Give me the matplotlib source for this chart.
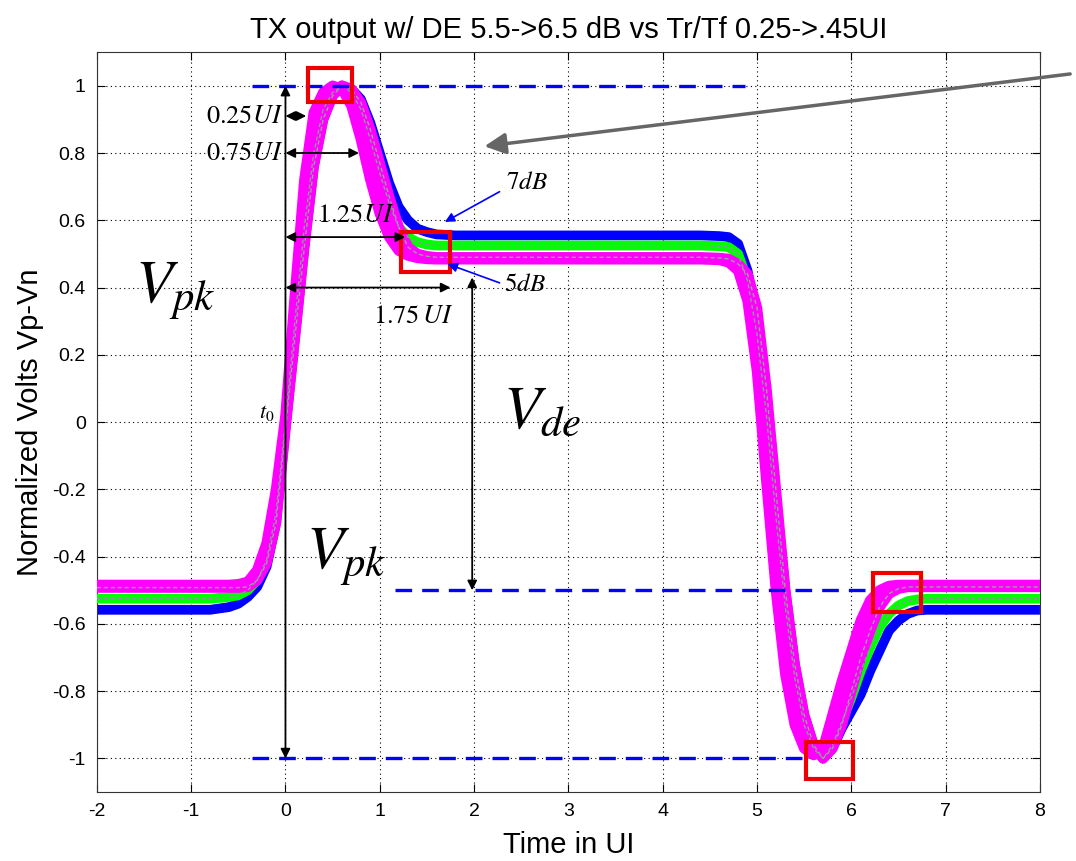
import matplotlib
matplotlib.use("Agg")
import matplotlib.pyplot as plt
from matplotlib.patches import Rectangle

plt.rcParams['font.family'] = ['Liberation Sans', 'DejaVu Sans']
plt.rcParams['mathtext.fontset'] = 'stix'
plt.rcParams['axes.unicode_minus'] = False

# ---- data ----
t = [-2.0, -0.8, -0.6, -0.5, -0.4, -0.3, -0.2, -0.1, 0.0, 0.1, 0.2, 0.3, 0.4, 0.5,
     0.6, 0.7, 0.8, 0.9, 1.0, 1.1, 1.2, 1.3, 1.4, 1.5, 1.6, 1.8, 2.0, 4.4, 4.6,
     4.7, 4.8, 4.9, 5.0, 5.1, 5.2, 5.3, 5.4, 5.5, 5.6, 5.7, 5.8, 5.9, 6.0, 6.1,
     6.2, 6.3, 6.4, 6.5, 6.6, 6.7, 6.8, 7.0, 8.0]

blue = [-0.558, -0.558, -0.55, -0.54, -0.52, -0.49, -0.43, -0.30, -0.02, 0.25, 0.52,
        0.76, 0.90, 0.97, 1.00, 0.99, 0.96, 0.89, 0.80, 0.71, 0.64, 0.60, 0.575, 0.565,
        0.558, 0.555, 0.555, 0.555, 0.553, 0.55, 0.53, 0.45, 0.30, 0.06, -0.22, -0.50,
        -0.72, -0.87, -0.96, -1.00, -0.97, -0.91, -0.86, -0.81, -0.74, -0.68, -0.62,
        -0.59, -0.57, -0.56, -0.558, -0.558, -0.558]

green = [-0.525, -0.525, -0.52, -0.515, -0.50, -0.47, -0.41, -0.27, 0.0, 0.30, 0.58,
         0.80, 0.93, 0.98, 1.00, 0.98, 0.93, 0.84, 0.74, 0.65, 0.58, 0.55, 0.535, 0.528,
         0.525, 0.525, 0.525, 0.525, 0.523, 0.52, 0.50, 0.42, 0.26, 0.02, -0.28, -0.55,
         -0.76, -0.90, -0.97, -1.00, -0.96, -0.89, -0.82, -0.74, -0.67, -0.61, -0.57,
         -0.545, -0.532, -0.527, -0.525, -0.525, -0.525]

mag_slow = [-0.492, -0.492, -0.492, -0.492, -0.49, -0.47, -0.42, -0.30, -0.02, 0.25, 0.52,
            0.76, 0.90, 0.97, 1.00, 0.99, 0.95, 0.87, 0.77, 0.67, 0.58, 0.52, 0.50, 0.493,
            0.49, 0.49, 0.49, 0.49, 0.488, 0.485, 0.47, 0.44, 0.34, 0.10, -0.20, -0.50,
            -0.72, -0.87, -0.96, -1.00, -0.97, -0.90, -0.80, -0.70, -0.62, -0.55, -0.51,
            -0.495, -0.49, -0.49, -0.49, -0.49, -0.49]

mag_mid = [-0.488, -0.488, -0.488, -0.487, -0.483, -0.455, -0.39, -0.25, 0.0, 0.31, 0.62,
           0.84, 0.94, 0.985, 1.00, 0.97, 0.90, 0.80, 0.70, 0.61, 0.545, 0.505, 0.493, 0.489,
           0.487, 0.487, 0.487, 0.487, 0.485, 0.478, 0.455, 0.39, 0.23, -0.05, -0.36, -0.63,
           -0.82, -0.93, -0.98, -0.99, -0.93, -0.84, -0.74, -0.65, -0.575, -0.525, -0.497,
           -0.489, -0.487, -0.487, -0.487, -0.487, -0.487]

mag_fast = [-0.484, -0.484, -0.484, -0.482, -0.475, -0.44, -0.36, -0.20, 0.02, 0.38, 0.72,
            0.92, 0.98, 1.00, 0.99, 0.94, 0.84, 0.72, 0.62, 0.55, 0.51, 0.495, 0.488, 0.485,
            0.484, 0.484, 0.484, 0.484, 0.482, 0.475, 0.45, 0.36, 0.15, -0.18, -0.50, -0.75,
            -0.90, -0.97, -0.99, -0.97, -0.87, -0.77, -0.68, -0.59, -0.53, -0.50, -0.487,
            -0.484, -0.484, -0.484, -0.484, -0.484, -0.484]

xticks = [-2, -1, 0, 1, 2, 3, 4, 5, 6, 7, 8]
yticks = [-1, -0.8, -0.6, -0.4, -0.2, 0, 0.2, 0.4, 0.6, 0.8, 1]
ytick_labels = ['-1', '-0.8', '-0.6', '-0.4', '-0.2', '0', '0.2', '0.4', '0.6', '0.8', '1']

# dashed reference levels: (y, x_start, x_end)
ref_levels = [(1.0, -0.35, 4.87), (-0.5, 1.16, 6.2), (-1.0, -0.35, 5.52)]

# red boxes: (x0, y0, width, height)
red_boxes = [(0.24, 0.952, 0.47, 0.102), (1.23, 0.446, 0.51, 0.119),
             (5.52, -1.06, 0.50, 0.108), (6.23, -0.565, 0.51, 0.116)]

# horizontal timing arrows: (y, x_end, label, label_x, label_y, ha)
ui_arrows = [(0.91, 0.22, r'$\mathrm{0.25}UI$', -0.02, 0.91, 'right'),
             (0.80, 0.78, r'$\mathrm{0.75}UI$', -0.02, 0.80, 'right'),
             (0.55, 1.27, r'$\mathrm{1.25}UI$', 0.74, 0.615, 'center'),
             (0.40, 1.75, r'$\mathrm{1.75}\,UI$', 1.36, 0.315, 'center')]

fig = plt.figure(figsize=(10.76, 8.61), dpi=100)
ax = fig.add_axes([0.090, 0.080, 0.8765, 0.8595])

# waveforms
ax.plot(t, blue, color='#0000ff', lw=7, solid_capstyle='butt', zorder=2)
ax.plot(t, green, color='#00ff00', lw=7, solid_capstyle='butt', zorder=3)
for series in (mag_slow, mag_mid, mag_fast):
    ax.plot(t, series, color='#ff00ff', lw=7.5, solid_capstyle='butt', zorder=4)
ax.plot(t, green, color='#8a9a9a', lw=1, ls=(0, (3, 2)), zorder=5)
ax.plot(t, mag_slow, color='#9aa0a0', lw=1, ls=(0, (3, 2)), zorder=5)

for y, x0, x1 in ref_levels:
    ax.plot([x0, x1], [y, y], color='#0000ff', lw=2.4, ls=(0, (5, 3)), zorder=6)

for x0, y0, w, h in red_boxes:
    ax.add_patch(Rectangle((x0, y0), w, h, fill=False, edgecolor='#ee0000', lw=3, zorder=7))

# vertical arrow at t0
arrow_kw = dict(arrowstyle='<|-|>', color='black', lw=1.3, mutation_scale=14,
                shrinkA=0, shrinkB=0)
ax.annotate('', xy=(0, 1.0), xytext=(0, -1.0), arrowprops=arrow_kw, zorder=8)
# Vde arrow
ax.annotate('', xy=(1.98, 0.43), xytext=(1.98, -0.5), arrowprops=arrow_kw, zorder=8)

for y, xe, label, lx, ly, ha in ui_arrows:
    ax.annotate('', xy=(xe, y), xytext=(0, y), arrowprops=arrow_kw, zorder=8)
    ax.text(lx, ly, label, fontsize=19, ha=ha, va='center', zorder=9)

# dB arrows
blue_kw = dict(arrowstyle='-|>', color='#0000ff', lw=1.2, mutation_scale=14,
               shrinkA=0, shrinkB=0)
ax.annotate('', xy=(1.69, 0.595), xytext=(2.27, 0.685), arrowprops=blue_kw, zorder=8)
ax.annotate('', xy=(1.72, 0.47), xytext=(2.27, 0.414), arrowprops=blue_kw, zorder=8)
ax.text(2.56, 0.715, r'$7dB$', fontsize=18, ha='center', va='center')
ax.text(2.54, 0.41, r'$5dB$', fontsize=18, ha='center', va='center')

# big symbols
ax.text(-1.17, 0.39, r'$V_{pk}$', fontsize=44, ha='center', va='center')
ax.text(0.65, -0.40, r'$V_{pk}$', fontsize=44, ha='center', va='center')
ax.text(2.72, 0.03, r'$V_{de}$', fontsize=44, ha='center', va='center')
ax.text(-0.2, 0.03, r'$t_0$', fontsize=16, ha='center', va='center')

# gray pointer arrow from outside
ax.annotate('', xy=(2.11, 0.82), xytext=(8.32, 1.035),
            arrowprops=dict(arrowstyle='-|>', color='#666666', lw=2.5,
                            mutation_scale=32, shrinkA=0, shrinkB=0),
            annotation_clip=False, zorder=9)

ax.set_xlim(-2, 8)
ax.set_ylim(-1.1, 1.1)
ax.set_xticks(xticks)
ax.set_yticks(yticks)
ax.set_yticklabels(ytick_labels)
ax.tick_params(direction='in', top=True, right=True, length=6, labelsize=14, pad=8)
ax.grid(True, color='black', ls=(0, (1, 3)), lw=0.8)
for sp in ax.spines.values():
    sp.set_color('#333333')

ax.set_title('TX output w/ DE 5.5->6.5 dB vs Tr/Tf 0.25->.45UI', fontsize=21, pad=10)
ax.set_xlabel('Time in UI', fontsize=21, labelpad=8)
ax.set_ylabel('Normalized Volts Vp-Vn', fontsize=21, labelpad=6)

plt.savefig('out.png', dpi=100)
